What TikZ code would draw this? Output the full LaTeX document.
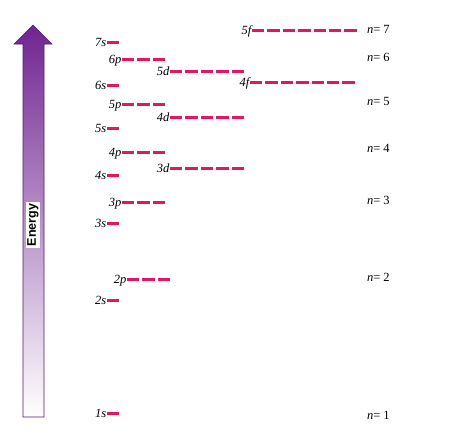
\documentclass[tikz,border=0pt]{standalone}
\usepackage{fontspec}
\setmainfont{Liberation Serif}
\setsansfont{Liberation Sans}
\usepackage{tikz}
\usetikzlibrary{arrows}

\definecolor{levelred}{RGB}{226,22,98}
\definecolor{arrowtop}{RGB}{112,36,145}
\definecolor{arrowmid}{RGB}{178,98,190}
\definecolor{arrowline}{RGB}{80,30,110}

\begin{document}
\begin{tikzpicture}[x=1pt,y=-1pt,
  orb node/.style={anchor=east,inner sep=0.5pt,text height=8pt,text depth=0pt,
    font=\fontsize{12.5}{14}\selectfont\itshape},
  n node/.style={anchor=west,inner sep=0pt,font=\fontsize{12.5}{14}\selectfont},
  level/.style={line width=3pt,draw=levelred,dash pattern=on 12.4pt off 3pt},
  energy node/.style={rotate=90,fill=white,inner sep=1.5pt,
    font=\sffamily\bfseries\fontsize{12.5}{13}\selectfont}]
  \useasboundingbox (0,0) rectangle (459,437);

  % energy arrow
  \shade[top color=arrowtop,middle color=arrowmid,bottom color=white,
    draw=arrowline,line width=0.6pt]
    (23,417) -- (23,44) -- (14,44) -- (33,25) -- (52,44) -- (44,44) -- (44,417) -- cycle;
  \node[energy node] (energy) at (33,225) {Energy};

  % s levels
  \node[orb node] (1s) at (107,413) {1s};
  \node[orb node] (2s) at (107,300) {2s};
  \node[orb node] (3s) at (107,223) {3s};
  \node[orb node] (4s) at (107,175) {4s};
  \node[orb node] (5s) at (107,128) {5s};
  \node[orb node] (6s) at (107,85) {6s};
  \node[orb node] (7s) at (107,42) {7s};
  \coordinate (e1s) at (120,413);
  \coordinate (e2s) at (120,300);
  \coordinate (e3s) at (120,223);
  \coordinate (e4s) at (120,175);
  \coordinate (e5s) at (120,128);
  \coordinate (e6s) at (120,85);
  \coordinate (e7s) at (120,42);

  % p levels
  \node[orb node] (2p) at (127,279) {2p};
  \node[orb node] (3p) at (122,202) {3p};
  \node[orb node] (4p) at (122,152) {4p};
  \node[orb node] (5p) at (122,104) {5p};
  \node[orb node] (6p) at (122,59) {6p};
  \coordinate (e2p) at (170,279);
  \coordinate (e3p) at (165,202);
  \coordinate (e4p) at (165,152);
  \coordinate (e5p) at (165,104);
  \coordinate (e6p) at (165,59);

  % d levels
  \node[orb node] (3d) at (170,168) {3d};
  \node[orb node] (4d) at (170,117) {4d};
  \node[orb node] (5d) at (170,71) {5d};
  \coordinate (e3d) at (245,168);
  \coordinate (e4d) at (245,117);
  \coordinate (e5d) at (245,71);

  % f levels
  \node[orb node] (4f) at (250,82) {4f};
  \node[orb node] (5f) at (252,30) {5f};
  \coordinate (e4f) at (357,82);
  \coordinate (e5f) at (357,30);

  % shells
  \node[n node] (n7) at (367,29) {\textit{n}=\hspace{3pt}7};
  \node[n node] (n6) at (367,57) {\textit{n}=\hspace{3pt}6};
  \node[n node] (n5) at (367,101) {\textit{n}=\hspace{3pt}5};
  \node[n node] (n4) at (367,148) {\textit{n}=\hspace{3pt}4};
  \node[n node] (n3) at (367,200) {\textit{n}=\hspace{3pt}3};
  \node[n node] (n2) at (367,277) {\textit{n}=\hspace{3pt}2};
  \node[n node] (n1) at (367,415) {\textit{n}=\hspace{3pt}1};

  \path[level]
    (1s) edge (e1s)
    (2s) edge (e2s)
    (3s) edge (e3s)
    (4s) edge (e4s)
    (5s) edge (e5s)
    (6s) edge (e6s)
    (7s) edge (e7s)
    (2p) edge (e2p)
    (3p) edge (e3p)
    (4p) edge (e4p)
    (5p) edge (e5p)
    (6p) edge (e6p)
    (3d) edge (e3d)
    (4d) edge (e4d)
    (5d) edge (e5d)
    (4f) edge (e4f)
    (5f) edge (e5f);
\end{tikzpicture}
\end{document}
